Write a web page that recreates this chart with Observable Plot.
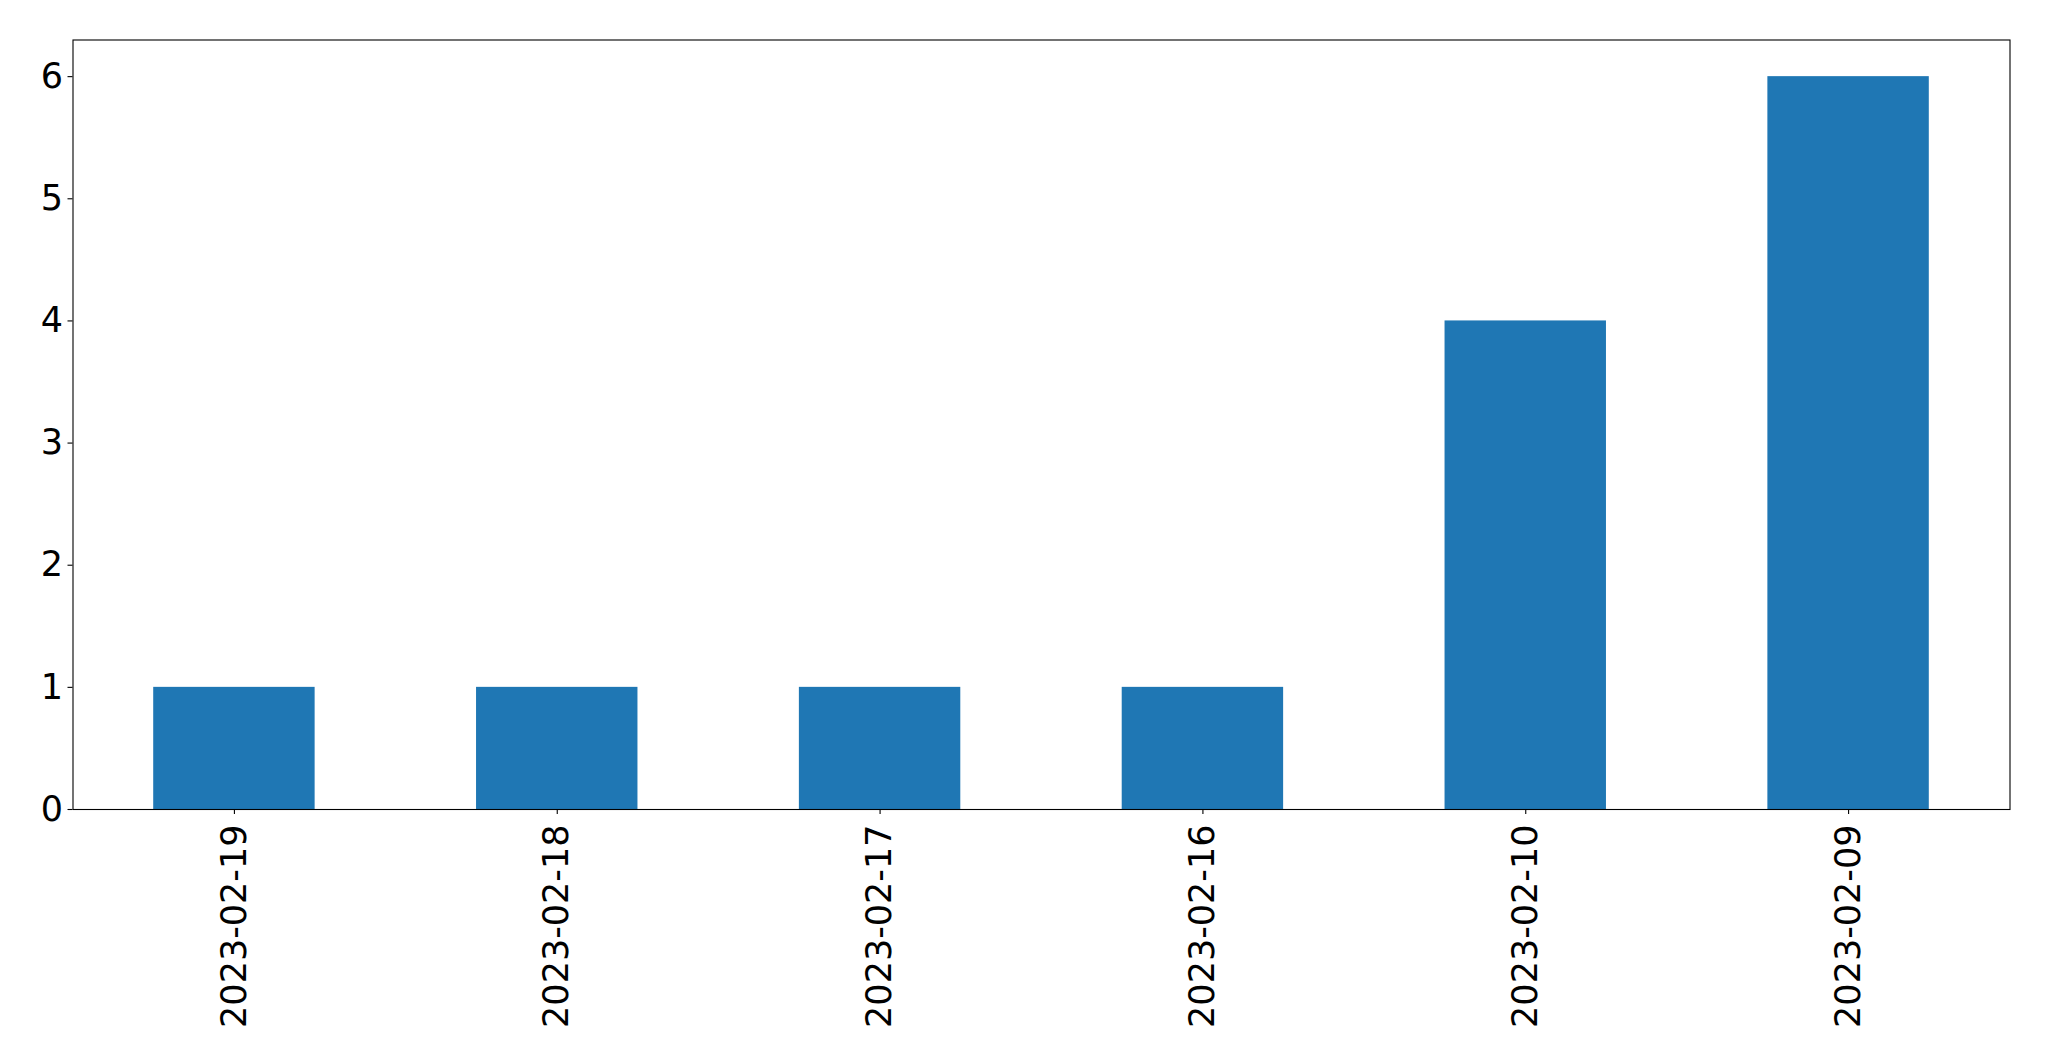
<!DOCTYPE html>
<html>
<head>
<meta charset="utf-8">
<script src="https://cdn.jsdelivr.net/npm/d3@7"></script>
<script src="https://cdn.jsdelivr.net/npm/@observablehq/plot@0.6"></script>
<style>
  html, body { margin: 0; padding: 0; background: #fff; }
  #chart svg { display: block; }
</style>
</head>
<body>
<div id="chart"></div>
<script>
const dates = ["2023-02-19", "2023-02-18", "2023-02-17", "2023-02-16", "2023-02-10", "2023-02-09"];
const counts = [1, 1, 1, 1, 4, 6];
const yTicks = [0, 1, 2, 3, 4, 5, 6];

const data = dates.map((d, i) => ({date: d, count: counts[i]}));

const chart = Plot.plot({
  width: 2049,
  height: 1061,
  marginLeft: 72.5,
  marginTop: 39.5,
  marginRight: 39.5,
  marginBottom: 252,
  style: {fontFamily: "'DejaVu Sans', sans-serif", fontSize: "35px", color: "#000", background: "#fff"},
  x: {domain: dates, paddingInner: 0.5, paddingOuter: 0.25, align: 0.5, round: false},
  y: {domain: [0, 6.3]},
  marks: [
    Plot.barY(data, {x: "date", y: "count", fill: "#1f77b4"}),
    Plot.frame({stroke: "#000", strokeWidth: 1.1}),
    Plot.axisY(yTicks, {tickSize: 5, tickPadding: 5, tickFormat: d3.format("d"), label: null, stroke: "#000", strokeWidth: 1.1, fontSize: 35}),
    Plot.axisX({tickSize: 5, tickPadding: 10, tickRotate: -90, label: null, stroke: "#000", strokeWidth: 1.1, fontSize: 35})
  ]
});
document.getElementById("chart").appendChild(chart);
</script>
</body>
</html>
